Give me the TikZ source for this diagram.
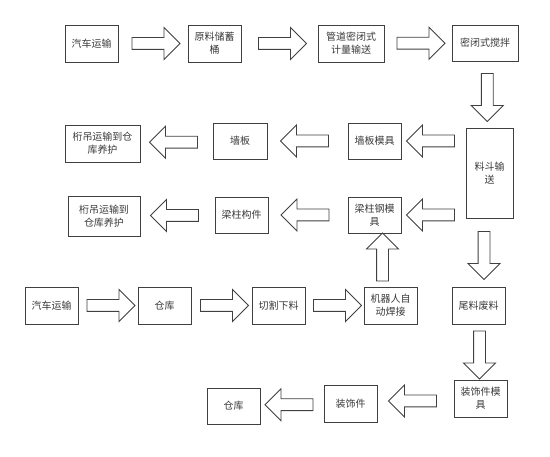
\documentclass[tikz,border=0pt]{standalone}
\usepackage{fontspec}
\setmainfont{Noto Sans CJK SC}
\usetikzlibrary{shapes.arrows,calc}
\definecolor{linec}{HTML}{404040}
\definecolor{textc}{HTML}{3A3A3A}
\begin{document}
\begin{tikzpicture}[x=1pt,y=1pt,
  box/.style={draw=linec, line width=0.9pt, fill=white, text=textc, align=center,
    inner sep=0pt, font=\fontsize{10}{13}\selectfont},
  barrow/.style={single arrow, draw=linec, line width=0.9pt, fill=white,
    inner sep=5.5pt, single arrow head extend=10pt, minimum height=48pt}]
\fill[white] (0,0) rectangle (550,-457);
\useasboundingbox (0,0) rectangle (550,-457);
% row 1
\node[box, minimum width=53pt, minimum height=37pt] (A1) at (91.5,-43.5) {汽车运输};
\node[box, minimum width=53pt, minimum height=37pt] (A2) at (214.5,-43.5) {原料储蓄\\桶};
\node[box, minimum width=66pt, minimum height=37pt] (A3) at (351,-43.5) {管道密闭式\\计量输送};
\node[box, minimum width=66pt, minimum height=36pt] (A4) at (485,-43) {密闭式搅拌};
\node[box, minimum width=47pt, minimum height=90pt] (T) at (489.5,-173) {料斗输\\送};
% row 2
\node[box, minimum width=53pt, minimum height=36pt] (B1) at (374.5,-141) {墙板模具};
\node[box, minimum width=54pt, minimum height=36pt] (B2) at (240,-141) {墙板};
\node[box, minimum width=75pt, minimum height=37pt] (B3) at (102.5,-143.5) {桁吊运输到仓\\库养护};
% row 3
\node[box, minimum width=53pt, minimum height=36pt] (C1) at (374.5,-215) {梁柱钢模\\具};
\node[box, minimum width=53pt, minimum height=36pt] (C2) at (241.5,-215) {梁柱构件};
\node[box, minimum width=72pt, minimum height=40pt] (C3) at (104,-216) {桁吊运输到\\仓库养护};
% row 4
\node[box, minimum width=53pt, minimum height=37pt] (D1) at (51.5,-305.5) {汽车运输};
\node[box, minimum width=53pt, minimum height=37pt] (D2) at (164.5,-305.5) {仓库};
\node[box, minimum width=53pt, minimum height=37pt] (D3) at (278.5,-305.5) {切割下料};
\node[box, minimum width=53pt, minimum height=37pt] (D4) at (390.5,-305.5) {机器人自\\动焊接};
\node[box, minimum width=53pt, minimum height=37pt] (D5) at (478.5,-305.5) {尾料废料};
% row 5
\node[box, minimum width=53pt, minimum height=37pt] (E1) at (480.5,-398.5) {装饰件模\\具};
\node[box, minimum width=53pt, minimum height=37pt] (E2) at (350.5,-403.5) {装饰件};
\node[box, minimum width=53pt, minimum height=36pt] (E3) at (233.5,-406) {仓库};
% arrows
\node[barrow] (r1) at ($(A1.east)!0.5!(A2.west)$) {};
\node[barrow] (r2) at ($(A2.east)!0.5!(A3.west)$) {};
\node[barrow] (r3) at ($(A3.east)!0.5!(A4.west)$) {};
\node[barrow, rotate=-90] (d1) at ($(A4.south)!0.5!(T.north)$) {};
\node[barrow, rotate=180] (l1) at ($(T.west |- B1.east)!0.5!(B1.east)$) {};
\node[barrow, rotate=180] (l2) at ($(B1.west)!0.5!(B2.east)$) {};
\node[barrow, rotate=180] (l3) at ($(B2.west)!0.5!(B3.east)$) {};
\node[barrow, rotate=180] (l4) at ($(T.west |- C1.east)!0.5!(C1.east)$) {};
\node[barrow, rotate=180] (l5) at ($(C1.west)!0.5!(C2.east)$) {};
\node[barrow, rotate=180] (l6) at ($(C2.west)!0.5!(C3.east)$) {};
\node[barrow, rotate=90] (u1) at ($(D4.north)!0.5!(C1.south)$) {};
\node[barrow, rotate=-90] (d2) at ($(T.south)!0.5!(D5.north)$) {};
\node[barrow] (r4) at ($(D1.east)!0.5!(D2.west)$) {};
\node[barrow] (r5) at ($(D2.east)!0.5!(D3.west)$) {};
\node[barrow] (r6) at ($(D3.east)!0.5!(D4.west)$) {};
\node[barrow, rotate=-90] (d3) at ($(D5.south)!0.5!(E1.north)$) {};
\node[barrow, rotate=180] (l7) at ($(E1.west)!0.5!(E2.east)$) {};
\node[barrow, rotate=180] (l8) at ($(E2.west)!0.5!(E3.east)$) {};
\end{tikzpicture}
\end{document}
